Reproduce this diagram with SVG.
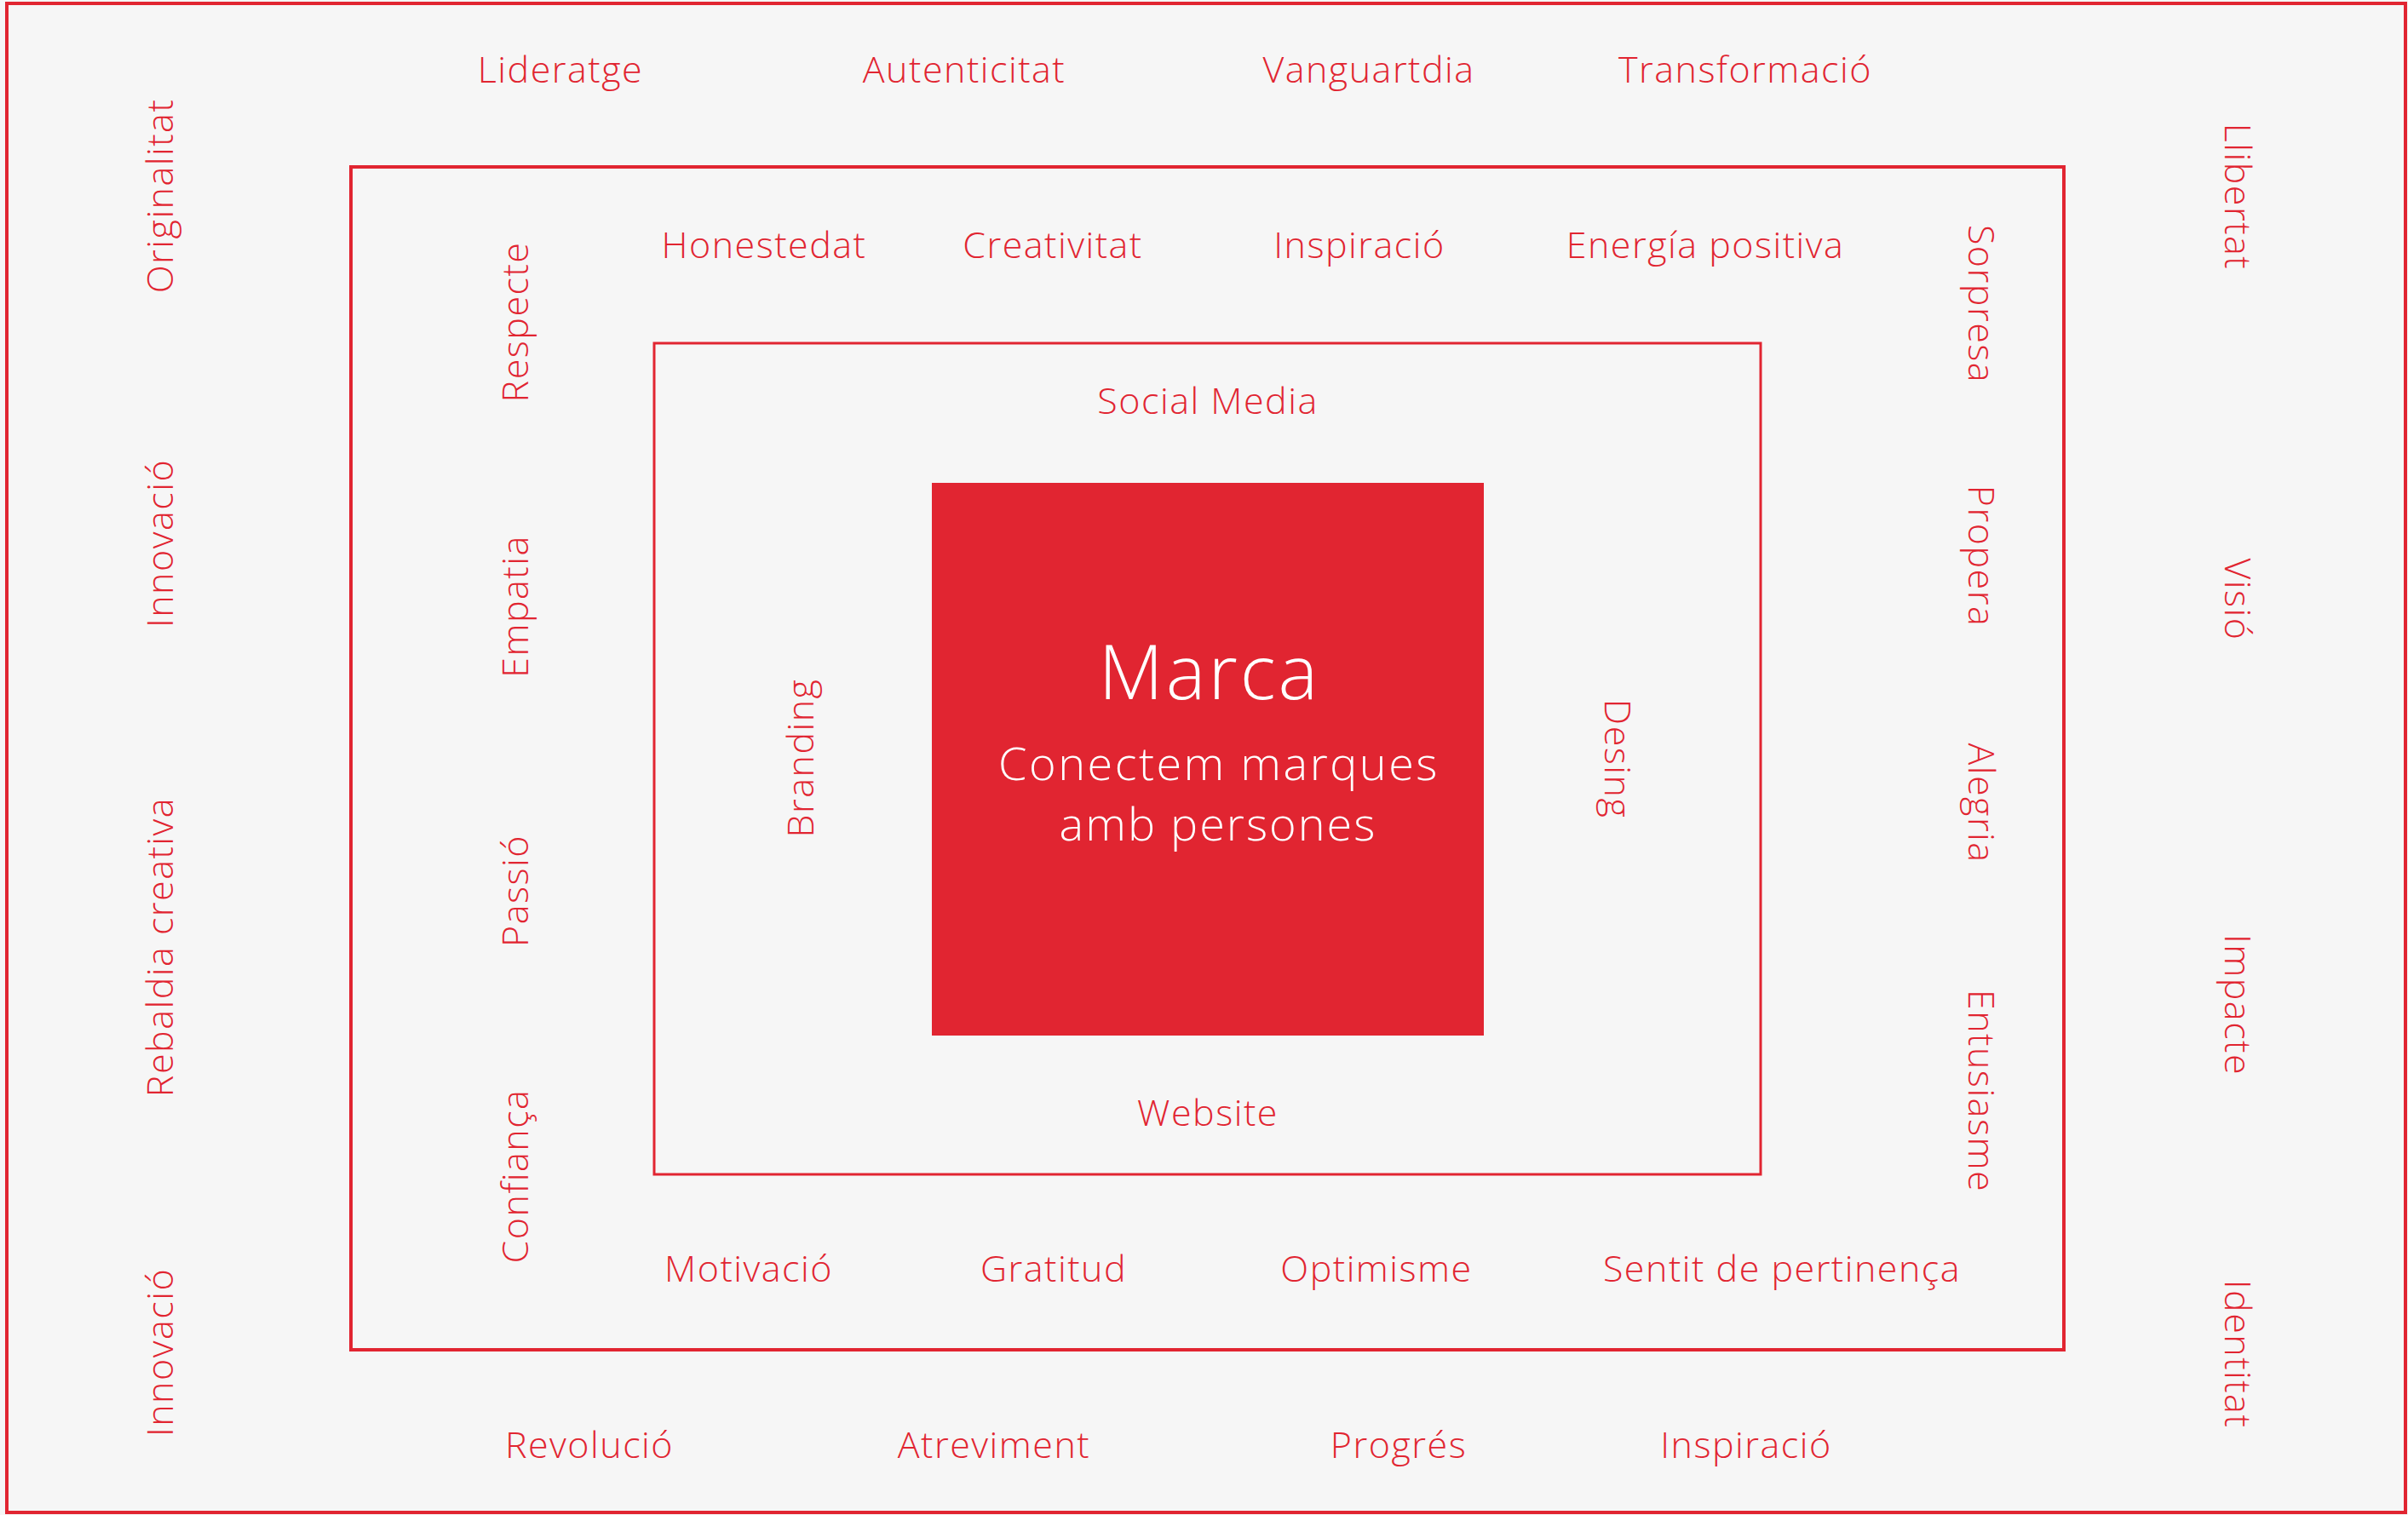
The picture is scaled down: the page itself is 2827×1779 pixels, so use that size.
<svg xmlns="http://www.w3.org/2000/svg" width="2827" height="1779" viewBox="0 0 2827 1779">
  <style>
    .frame { fill: none; stroke: #E12531; }
    .lbl { font-family: "Open Sans", "Liberation Sans", sans-serif; font-weight: 300; font-size: 43px; letter-spacing: 1.5px; fill: #E12531; text-anchor: middle; }
    .core { font-family: "Open Sans", "Liberation Sans", sans-serif; font-weight: 300; fill: #FFFFFF; text-anchor: middle; }
  </style>
  <rect x="0" y="0" width="2827" height="1779" fill="#F6F6F6"/>
  <g id="frames">
    <rect id="outer-frame" class="frame" x="8" y="4" width="2816" height="1772" stroke-width="4"/>
    <rect id="middle-frame" class="frame" x="412" y="196" width="2011" height="1389" stroke-width="4"/>
    <rect id="inner-frame" class="frame" x="768" y="403" width="1299" height="976" stroke-width="3"/>
  </g>
  <g id="connectors"></g>
  <g id="marca">
    <rect x="1094" y="567" width="648" height="649" fill="#E12531"/>
    <text class="core" x="1420" y="821" font-size="88" letter-spacing="3">Marca</text>
    <text class="core" x="1431" y="916" font-size="54" letter-spacing="2.5">Conectem marques</text>
    <text class="core" x="1430" y="987" font-size="54" letter-spacing="2">amb persones</text>
  </g>
  <g id="inner-ring">
    <text class="lbl" x="1418" y="486">Social Media</text>
    <text class="lbl" x="1418" y="1322">Website</text>
    <text class="lbl" transform="translate(955 890) rotate(-90)">Branding</text>
    <text class="lbl" transform="translate(1884 891) rotate(90)">Desing</text>
  </g>
  <g id="middle-ring">
    <text class="lbl" x="897" y="303">Honestedat</text>
    <text class="lbl" x="1236" y="303">Creativitat</text>
    <text class="lbl" x="1596" y="303">Inspiració</text>
    <text class="lbl" x="2002" y="303">Energía positiva</text>
    <text class="lbl" x="879" y="1505">Motivació</text>
    <text class="lbl" x="1237" y="1505">Gratitud</text>
    <text class="lbl" x="1616" y="1505">Optimisme</text>
    <text class="lbl" x="2092" y="1505">Sentit de pertinença</text>
    <text class="lbl" transform="translate(620 378) rotate(-90)">Respecte</text>
    <text class="lbl" transform="translate(620 712) rotate(-90)">Empatia</text>
    <text class="lbl" transform="translate(620 1046) rotate(-90)">Passió</text>
    <text class="lbl" transform="translate(620 1381) rotate(-90)">Confiança</text>
    <text class="lbl" transform="translate(2311 357) rotate(90)">Sorpresa</text>
    <text class="lbl" transform="translate(2311 653) rotate(90)">Propera</text>
    <text class="lbl" transform="translate(2311 943) rotate(90)">Alegria</text>
    <text class="lbl" transform="translate(2311 1281) rotate(90)">Entusiasme</text>
  </g>
  <g id="outer-ring">
    <text class="lbl" x="658" y="97">Lideratge</text>
    <text class="lbl" x="1132" y="97">Autenticitat</text>
    <text class="lbl" x="1607" y="97">Vanguartdia</text>
    <text class="lbl" x="2049" y="97">Transformació</text>
    <text class="lbl" x="692" y="1712">Revolució</text>
    <text class="lbl" x="1167" y="1712">Atreviment</text>
    <text class="lbl" x="1642" y="1712">Progrés</text>
    <text class="lbl" x="2050" y="1712">Inspiració</text>
    <text class="lbl" transform="translate(203 230) rotate(-90)">Originalitat</text>
    <text class="lbl" transform="translate(203 638) rotate(-90)">Innovació</text>
    <text class="lbl" transform="translate(203 1112) rotate(-90)">Rebaldia creativa</text>
    <text class="lbl" transform="translate(203 1588) rotate(-90)">Innovació</text>
    <text class="lbl" transform="translate(2612 231) rotate(90)">Llibertat</text>
    <text class="lbl" transform="translate(2612 704) rotate(90)">Visió</text>
    <text class="lbl" transform="translate(2612 1180) rotate(90)">Impacte</text>
    <text class="lbl" transform="translate(2612 1590) rotate(90)">Identitat</text>
  </g>
</svg>
